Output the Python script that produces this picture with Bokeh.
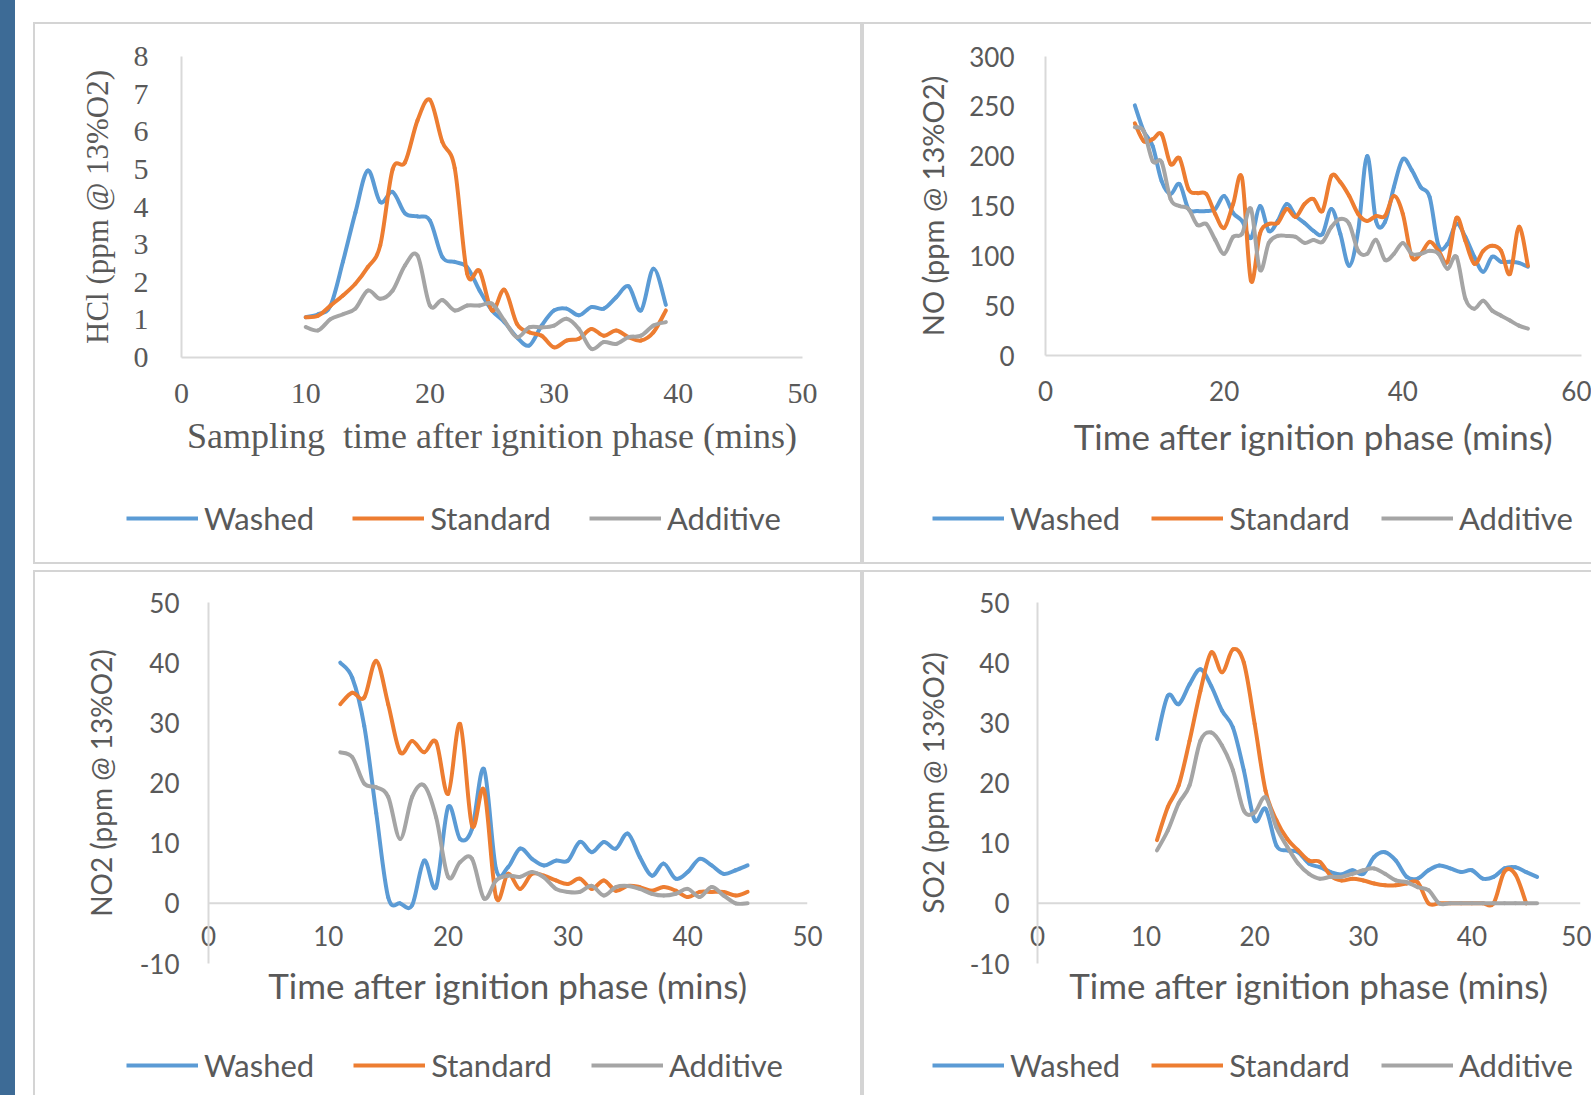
import numpy as np
from bokeh.plotting import figure
from bokeh.models import Range1d, FixedTicker, Legend, LegendItem, Span, Div
from bokeh.layouts import row, column
from bokeh.embed import file_html
from bokeh.resources import INLINE

SERIES = ["Washed", "Standard", "Additive"]
COLORS = ["#5b9bd5", "#ed7d31", "#a5a5a5"]

# ---------------- HCl ----------------
hcl_t = list(range(10, 40))
hcl_washed = [1.07, 1.15, 1.38, 2.55, 3.85, 4.97, 4.13, 4.40, 3.83, 3.75,
              3.64, 2.67, 2.54, 2.40, 1.78, 1.25, 0.94, 0.54, 0.32, 0.85,
              1.25, 1.30, 1.12, 1.34, 1.30, 1.60, 1.89, 1.25, 2.36, 1.40]
hcl_standard = [1.07, 1.11, 1.38, 1.65, 1.96, 2.40, 2.98, 5.00, 5.19, 6.30,
                6.85, 5.73, 5.03, 2.23, 2.30, 1.25, 1.80, 0.90, 0.67, 0.58,
                0.27, 0.45, 0.50, 0.76, 0.58, 0.72, 0.54, 0.45, 0.67, 1.25]
hcl_additive = [0.81, 0.72, 1.02, 1.15, 1.30, 1.78, 1.56, 1.78, 2.45, 2.71,
                1.38, 1.53, 1.25, 1.38, 1.38, 1.43, 0.98, 0.54, 0.80, 0.80,
                0.85, 1.03, 0.76, 0.23, 0.41, 0.36, 0.54, 0.58, 0.85, 0.94]

# ---------------- NO ----------------
no_t = list(range(10, 55))
no_washed = [251, 225, 210, 175, 162, 172, 147, 145, 145, 147,
             160, 143, 135, 118, 150, 125, 135, 152, 140, 133,
             125, 122, 147, 122, 90, 125, 200, 135, 134, 169,
             197, 186, 169, 159, 110, 112, 132, 119, 99, 84,
             99, 94, 94, 93, 89]
no_standard = [233, 215, 217, 222, 192, 198, 167, 163, 162, 142,
               128, 152, 178, 75, 122, 132, 133, 147, 139, 152,
               157, 145, 180, 174, 160, 142, 135, 140, 140, 160,
               142, 99, 102, 114, 105, 94, 138, 115, 92, 105,
               110, 105, 82, 129, 90]
no_additive = [229, 225, 195, 194, 157, 150, 147, 131, 132, 116,
               102, 119, 122, 147, 86, 113, 120, 120, 119, 113,
               116, 114, 129, 137, 132, 105, 102, 116, 96, 102,
               113, 102, 102, 105, 102, 87, 99, 57, 47, 55,
               45, 40, 35, 30, 27]

# ---------------- NO2 ----------------
no2_t = list(range(11, 46))
no2_washed = [40.0, 37.5, 29.5, 15.0, 1.0, 0.0, -0.3, 7.1, 2.7, 16.0,
              10.7, 12.4, 22.3, 5.7, 6.0, 9.1, 7.4, 6.3, 7.1, 7.1,
              10.2, 8.5, 10.2, 9.1, 11.6, 7.7, 4.6, 6.6, 4.1, 5.2,
              7.4, 6.3, 4.9, 5.5, 6.3]
no2_standard = [33.1, 35.0, 34.2, 40.3, 33.1, 25.1, 27.0, 25.1, 26.8, 18.2,
                29.8, 12.9, 18.8, 1.05, 4.9, 2.4, 4.9, 4.6, 3.8, 3.2,
                4.1, 2.4, 3.8, 2.1, 2.9, 2.7, 2.1, 2.7, 2.1, 1.05,
                1.9, 1.9, 1.9, 1.3, 1.9]
no2_additive = [25.1, 24.3, 19.9, 19.3, 17.7, 10.7, 17.7, 19.6, 14.3, 4.4,
                6.85, 7.4, 0.8, 3.8, 4.6, 4.4, 5.2, 4.3, 2.4, 1.9,
                1.9, 2.9, 1.3, 2.7, 2.9, 2.4, 1.6, 1.3, 1.6, 2.4,
                1.05, 2.7, 1.3, 0.0, 0.0]

# ---------------- SO2 ----------------
so2_t_washed = list(range(11, 47))
so2_washed = [27.3, 34.5, 33.1, 36.4, 38.9, 36.1, 32.0, 29.2, 22.1, 13.8,
              15.7, 9.6, 8.8, 8.5, 6.6, 6.0, 5.2, 4.8, 5.5, 4.9,
              7.7, 8.5, 7.1, 4.4, 4.1, 5.5, 6.3, 5.8, 5.2, 5.5,
              4.1, 4.4, 5.8, 6.0, 5.2, 4.4]
so2_t_standard = list(range(11, 46))
so2_standard = [10.5, 16.0, 19.6, 27.0, 35.3, 41.7, 38.4, 42.2, 40.0, 29.8,
                18.7, 13.8, 10.7, 8.8, 7.1, 6.9, 4.6, 3.8, 4.1, 3.8,
                3.3, 3.0, 3.0, 3.3, 3.5, 0.0, 0.0, 0.0, 0.0, 0.0,
                0.0, 0.0, 5.3, 4.8, 0.0]
so2_t_additive = list(range(11, 47))
so2_additive = [8.8, 12.1, 16.6, 19.6, 27.0, 28.4, 26.2, 22.1, 15.4, 15.1,
                17.6, 12.6, 9.4, 6.6, 4.9, 4.1, 4.4, 4.4, 4.9, 5.5,
                5.8, 4.9, 3.8, 3.5, 2.7, 2.2, 0.0, 0.0, 0.0, 0.0,
                0.0, 0.0, 0.0, 0.0, 0.0, 0.0]

TEXT = "#595959"
AXIS = "#d9d9d9"
BORDER = "#d4d4d4"
SANS = "Lato"
SERIF = "Liberation Serif"
LW = 4


def smooth_line(p, t, v, color):
    """Excel-style smoothed line: a Bezier segment between each pair of
    consecutive data points (Catmull-Rom control points)."""
    x = np.asarray(t, dtype=float)
    y = np.asarray(v, dtype=float)
    xp = np.concatenate([[x[0]], x, [x[-1]]])
    yp = np.concatenate([[y[0]], y, [y[-1]]])
    n = len(x)
    i = np.arange(n - 1)
    x0, y0 = xp[i + 1], yp[i + 1]
    x1, y1 = xp[i + 2], yp[i + 2]
    cx0 = x0 + (xp[i + 2] - xp[i]) / 6.0
    cy0 = y0 + (yp[i + 2] - yp[i]) / 6.0
    cx1 = x1 - (xp[i + 3] - xp[i + 1]) / 6.0
    cy1 = y1 - (yp[i + 3] - yp[i + 1]) / 6.0
    return p.bezier(x0=x0, y0=y0, x1=x1, y1=y1, cx0=cx0, cy0=cy0, cx1=cx1, cy1=cy1,
                    line_color=color, line_width=LW, line_cap="round")


def make_panel(width, height, mb, xr, yr, xticks, yticks, xlabel, ylabel,
               tick_font, tick_size, title_font, xtitle_size, ytitle_size,
               xstand, xtstand, ystand, ytstand, series, zero_line=False):
    p = figure(width=width, height=height, x_range=Range1d(*xr), y_range=Range1d(*yr),
               output_backend="svg", toolbar_location=None,
               min_border_left=mb[0], min_border_right=mb[1],
               min_border_top=mb[2], min_border_bottom=mb[3])
    p.margin = (0, 0, 0, 0)
    p.outline_line_color = None
    p.xgrid.visible = False
    p.ygrid.visible = False
    p.background_fill_color = "white"
    p.border_fill_color = "white"

    xa = p.xaxis[0]
    xa.ticker = FixedTicker(ticks=xticks)
    xa.axis_line_color = None if zero_line else AXIS
    xa.axis_line_width = 2
    xa.major_tick_line_color = None
    xa.minor_tick_line_color = None
    xa.major_label_text_font = tick_font
    xa.major_label_text_font_size = tick_size
    xa.major_label_text_color = TEXT
    xa.major_label_standoff = xstand
    xa.axis_label = xlabel
    xa.axis_label_text_font = title_font
    xa.axis_label_text_font_size = xtitle_size
    xa.axis_label_text_font_style = "normal"
    xa.axis_label_text_color = TEXT
    xa.axis_label_standoff = xtstand

    ya = p.yaxis[0]
    ya.ticker = FixedTicker(ticks=yticks)
    ya.axis_line_color = AXIS
    ya.axis_line_width = 2
    ya.major_tick_line_color = None
    ya.minor_tick_line_color = None
    ya.major_label_text_font = tick_font
    ya.major_label_text_font_size = tick_size
    ya.major_label_text_color = TEXT
    ya.major_label_standoff = ystand
    ya.major_label_overrides = {t: str(t) for t in yticks}
    ya.axis_label = ylabel
    ya.axis_label_text_font = title_font
    ya.axis_label_text_font_size = ytitle_size
    ya.axis_label_text_font_style = "normal"
    ya.axis_label_text_color = TEXT
    ya.axis_label_standoff = ytstand

    if zero_line:
        p.add_layout(Span(location=0, dimension="width", line_color=AXIS,
                          line_width=2, level="underlay"))

    for color, (t, v) in zip(COLORS, series):
        smooth_line(p, t, v, color)
    return p


def make_legend(width, height, loc, spacing, series):
    # legend strip: its own figure whose view range lies far away from the data,
    # so only the legend keys (drawn from the real series renderers) are visible
    lf = figure(width=width, height=height, x_range=Range1d(0, 1),
                y_range=Range1d(100000, 100001),
                output_backend="svg", toolbar_location=None,
                x_axis_location=None, y_axis_location=None,
                min_border_left=0, min_border_right=0, min_border_top=0, min_border_bottom=0)
    lf.margin = (0, 0, 0, 0)
    lf.outline_line_color = None
    lf.xgrid.visible = False
    lf.ygrid.visible = False
    items = []
    for name, color, (t, v) in zip(SERIES, COLORS, series):
        r = lf.line(t, v, line_color=color, line_width=LW)
        items.append(LegendItem(label=name, renderers=[r]))
    leg = Legend(items=items, location=loc, orientation="horizontal",
                 glyph_width=72, glyph_height=36, label_height=36,
                 label_standoff=6, spacing=spacing,
                 padding=0, margin=0, border_line_color=None,
                 background_fill_alpha=0, label_text_font=SANS,
                 label_text_font_size="31px", label_text_color=TEXT)
    lf.add_layout(leg, "center")
    return lf


hcl_series = [(hcl_t, hcl_washed), (hcl_t, hcl_standard), (hcl_t, hcl_additive)]
no_series = [(no_t, no_washed), (no_t, no_standard), (no_t, no_additive)]
no2_series = [(no2_t, no2_washed), (no2_t, no2_standard), (no2_t, no2_additive)]
so2_series = [(so2_t_washed, so2_washed), (so2_t_standard, so2_standard),
              (so2_t_additive, so2_additive)]

p1 = make_panel(825, 450, (146, 58, 32, 117), (0, 50), (0, 8),
                [0, 10, 20, 30, 40, 50], list(range(0, 9)),
                "Sampling\u00a0 time after ignition phase (mins)", "HCl (ppm @ 13%O2)",
                SERIF, "30px", SERIF, "36px", "31px", 20, 10, 27, 16, hcl_series)
l1 = make_legend(825, 88, (91, 25), 38, hcl_series)

p2 = make_panel(727, 450, (181, 10, 32, 119), (0, 60), (0, 300),
                [0, 20, 40, 60], list(range(0, 301, 50)),
                "Time after ignition phase (mins)", "NO (ppm @ 13%O2)",
                SANS, "26px", SANS, "35px", "29px", 19, 11, 25, 16, no_series)
l2 = make_legend(727, 88, (68, 25), 31, no_series)

p3 = make_panel(825, 460, (173, 53, 30, 69), (0, 50), (-10, 50),
                [0, 10, 20, 30, 40, 50], list(range(-10, 51, 10)),
                "Time after ignition phase (mins)", "NO2 (ppm @ 13%O2)",
                SANS, "26px", SANS, "35px", "28px", -44, 15, 23, 19,
                no2_series, zero_line=True)
l3 = make_legend(825, 63, (91, 11), 39, no2_series)

p4 = make_panel(727, 460, (173, 11, 30, 69), (0, 50), (-10, 50),
                [0, 10, 20, 30, 40, 50], list(range(-10, 51, 10)),
                "Time after ignition phase (mins)", "SO2 (ppm @ 13%O2)",
                SANS, "26px", SANS, "35px", "28px", -44, 15, 22, 17,
                so2_series, zero_line=True)
l4 = make_legend(727, 63, (68, 11), 31, so2_series)


def box(w, h, color=None):
    st = {"background-color": color} if color else {}
    return Div(text="", width=w, height=h, margin=0, styles=st)


top_row = row(
    row(box(2, 542, BORDER),
        column(box(825, 2, BORDER), row(p1, spacing=0), row(box(0, 88), l1, spacing=0),
               box(825, 2, BORDER), spacing=0),
        box(2, 542, BORDER), spacing=0),
    row(box(2, 542, BORDER),
        column(box(727, 2, BORDER), row(p2, spacing=0), row(box(0, 88), l2, spacing=0),
               box(727, 2, BORDER), spacing=0),
        spacing=0),
    spacing=0)
bottom_row = row(
    row(box(2, 525, BORDER),
        column(box(825, 2, BORDER), row(p3, spacing=0), row(box(0, 63), l3, spacing=0),
               spacing=0),
        box(2, 525, BORDER), spacing=0),
    row(box(2, 525, BORDER),
        column(box(727, 2, BORDER), row(p4, spacing=0), row(box(0, 63), l4, spacing=0),
               spacing=0),
        spacing=0),
    spacing=0)
right = column(box(1558, 22), top_row, box(1558, 6), bottom_row, spacing=0)
page = row(box(15, 1095, "#3d6b96"), box(18, 1095), right, spacing=0)

open("out.html", "w").write(file_html(page, INLINE))
